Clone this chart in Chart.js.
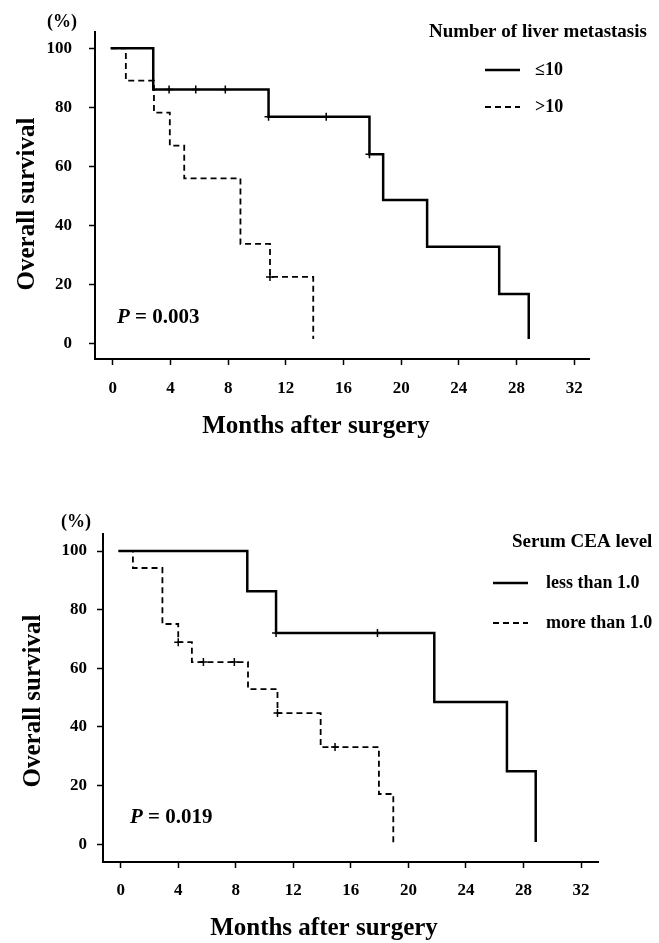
<!DOCTYPE html>
<html>
<head>
<meta charset="utf-8">
<script src="https://cdn.jsdelivr.net/npm/chart.js@4.4.1/dist/chart.umd.min.js"></script>
<style>
  body { margin: 0; background: #fff; }
  canvas { position: absolute; left: 0; display: block; }
</style>
</head>
<body>
<canvas id="liverMets" width="659" height="470" style="top:0"></canvas>
<canvas id="ceaLevel" width="659" height="473" style="top:470px"></canvas>
<script>
// axis ticks
const monthTicks = [0, 4, 8, 12, 16, 20, 24, 28, 32];
const survivalTicks = [0, 20, 40, 60, 80, 100];

// Number of liver metastasis: <=10
const le10Months = [-0.15, 2.8, 10.8, 17.8, 18.75, 21.8, 26.8, 28.85];
const le10Survival = [100, 86, 76.8, 64.1, 48.6, 32.7, 16.7, 1.5];
const le10CensorMonths = [3.9, 5.75, 7.8, 10.8, 14.8, 17.8];
const le10CensorSurvival = [86, 86, 86, 76.8, 76.8, 64.1];

// Number of liver metastasis: >10
const gt10Months = [-0.15, 0.9, 2.85, 3.95, 4.95, 8.85, 10.9, 13.9];
const gt10Survival = [100, 89, 78.2, 67, 55.9, 33.7, 22.5, 1.5];
const gt10CensorMonths = [10.9];
const gt10CensorSurvival = [22.5];

// Serum CEA level: less than 1.0
const ceaLowMonths = [-0.15, 8.8, 10.8, 21.8, 26.85, 28.85];
const ceaLowSurvival = [100, 86.3, 72, 48.5, 24.9, 0.7];
const ceaLowCensorMonths = [10.8, 17.85];
const ceaLowCensorSurvival = [72, 72];

// Serum CEA level: more than 1.0
const ceaHighMonths = [-0.15, 0.85, 2.9, 4, 4.95, 8.85, 10.9, 13.9, 17.95, 18.95];
const ceaHighSurvival = [100, 94.2, 75.1, 68.9, 62.1, 52.9, 44.7, 33.1, 17.1, 0.3];
const ceaHighCensorMonths = [4, 5.75, 7.9, 10.9, 14.9];
const ceaHighCensorSurvival = [68.9, 62.1, 62.1, 44.7, 33.1];

const serif = '"Liberation Serif", "Times New Roman", serif';

function points(xs, ys) {
  return xs.map((x, i) => ({ x: x, y: ys[i] }));
}

function curve(label, xs, ys, dashed) {
  return {
    label: label,
    data: points(xs, ys),
    stepped: 'before',
    borderColor: '#000',
    borderWidth: dashed ? 1.8 : 2.5,
    borderDash: dashed ? [6, 4] : [],
    pointRadius: 0,
    fill: false,
    inLegend: true
  };
}

function censored(xs, ys) {
  return {
    data: points(xs, ys),
    showLine: false,
    pointStyle: 'cross',
    pointRadius: 4,
    pointBorderWidth: 1.5,
    pointBorderColor: '#000',
    borderColor: '#000'
  };
}

// axis titles, p value and the legend are drawn straight onto the canvas
const figureText = {
  id: 'figureText',
  afterDraw(chart, args, o) {
    const ctx = chart.ctx;
    ctx.save();
    ctx.fillStyle = '#000';
    ctx.strokeStyle = '#000';

    ctx.font = 'bold 18px ' + serif;
    ctx.textAlign = 'left';
    ctx.textBaseline = 'middle';
    ctx.fillText('(%)', o.unit.x, o.unit.y);

    ctx.save();
    ctx.translate(o.yTitle.x, o.yTitle.y);
    ctx.rotate(-Math.PI / 2);
    ctx.font = 'bold 25px ' + serif;
    ctx.textAlign = 'center';
    ctx.textBaseline = 'alphabetic';
    ctx.fillText(o.yTitle.text, 0, 0);
    ctx.restore();

    ctx.font = 'bold 25px ' + serif;
    ctx.textAlign = 'center';
    ctx.textBaseline = 'alphabetic';
    ctx.fillText(o.xTitle.text, o.xTitle.x, o.xTitle.y);

    ctx.textAlign = 'left';
    ctx.textBaseline = 'middle';
    ctx.font = 'italic bold 21px ' + serif;
    ctx.fillText('P', o.pValue.x, o.pValue.y);
    const pw = ctx.measureText('P').width;
    ctx.font = 'bold 21px ' + serif;
    ctx.fillText(' = ' + o.pValue.text, o.pValue.x + pw, o.pValue.y);

    const lg = o.legend;
    ctx.font = 'bold 19px ' + serif;
    ctx.fillText(lg.title, lg.titleX, lg.titleY);
    let row = 0;
    chart.data.datasets.forEach(ds => {
      if (!ds.inLegend) return;
      const y = lg.firstY + row * lg.rowGap;
      ctx.save();
      ctx.lineWidth = ds.borderWidth;
      ctx.setLineDash(ds.borderDash);
      ctx.beginPath();
      ctx.moveTo(lg.lineX0, y);
      ctx.lineTo(lg.lineX1, y);
      ctx.stroke();
      ctx.restore();
      ctx.font = 'bold 18px ' + serif;
      ctx.fillText(ds.label, lg.textX, y);
      row++;
    });
    ctx.restore();
  }
};

function survivalChart(id, datasets, box, text) {
  return new Chart(document.getElementById(id), {
    type: 'line',
    data: { datasets: datasets },
    options: {
      responsive: false,
      animation: false,
      events: [],
      layout: { padding: { top: box.top, right: 659 - box.right, left: 0, bottom: 0 } },
      scales: {
        x: {
          type: 'linear',
          min: box.xMin,
          max: box.xMax,
          afterFit: s => { s.height = box.canvasH - box.bottom; },
          afterBuildTicks: s => { s.ticks = monthTicks.map(v => ({ value: v })); },
          grid: { drawOnChartArea: false, color: '#000', tickLength: 6, tickWidth: 1.5 },
          border: { display: true, color: '#000', width: 2 },
          ticks: {
            color: '#000', padding: box.xPad, maxRotation: 0, autoSkip: false,
            font: { family: serif, size: 17, weight: 'bold' }
          }
        },
        y: {
          min: box.yMin,
          max: box.yMax,
          afterFit: s => { s.width = box.left; },
          afterBuildTicks: s => { s.ticks = survivalTicks.map(v => ({ value: v })); },
          grid: { drawOnChartArea: false, color: '#000', tickLength: 6, tickWidth: 1.5 },
          border: { display: true, color: '#000', width: 2 },
          ticks: {
            color: '#000', padding: box.yPad,
            font: { family: serif, size: 17, weight: 'bold' }
          }
        }
      },
      plugins: {
        legend: { display: false },
        tooltip: { enabled: false },
        figureText: text
      }
    },
    plugins: [figureText]
  });
}

survivalChart('liverMets', [
  curve('\u226410', le10Months, le10Survival, false),
  curve('>10', gt10Months, gt10Survival, true),
  censored(le10CensorMonths, le10CensorSurvival),
  censored(gt10CensorMonths, gt10CensorSurvival)
], {
  canvasH: 470, left: 95, right: 589, top: 32, bottom: 359,
  xMin: -1.24, xMax: 33.03, yMin: -5.3, yMax: 105.5, xPad: 13, yPad: 17
}, {
  unit: { x: 47, y: 22 },
  yTitle: { text: 'Overall survival', x: 34, y: 204 },
  xTitle: { text: 'Months after surgery', x: 316, y: 433 },
  pValue: { text: '0.003', x: 117, y: 318 },
  legend: {
    title: 'Number of liver metastasis', titleX: 429, titleY: 32,
    lineX0: 485, lineX1: 520, textX: 535, firstY: 70, rowGap: 37
  }
});

survivalChart('ceaLevel', [
  curve('less than 1.0', ceaLowMonths, ceaLowSurvival, false),
  curve('more than 1.0', ceaHighMonths, ceaHighSurvival, true),
  censored(ceaLowCensorMonths, ceaLowCensorSurvival),
  censored(ceaHighCensorMonths, ceaHighCensorSurvival)
], {
  canvasH: 473, left: 103, right: 598, top: 64, bottom: 392,
  xMin: -1.23, xMax: 33.18, yMin: -6.1, yMax: 105.8, xPad: 12, yPad: 10
}, {
  unit: { x: 61, y: 52 },
  yTitle: { text: 'Overall survival', x: 40, y: 231 },
  xTitle: { text: 'Months after surgery', x: 324, y: 465 },
  pValue: { text: '0.019', x: 130, y: 348 },
  legend: {
    title: 'Serum CEA level', titleX: 512, titleY: 72,
    lineX0: 493, lineX1: 528, textX: 546, firstY: 113, rowGap: 40
  }
});
</script>
</body>
</html>
